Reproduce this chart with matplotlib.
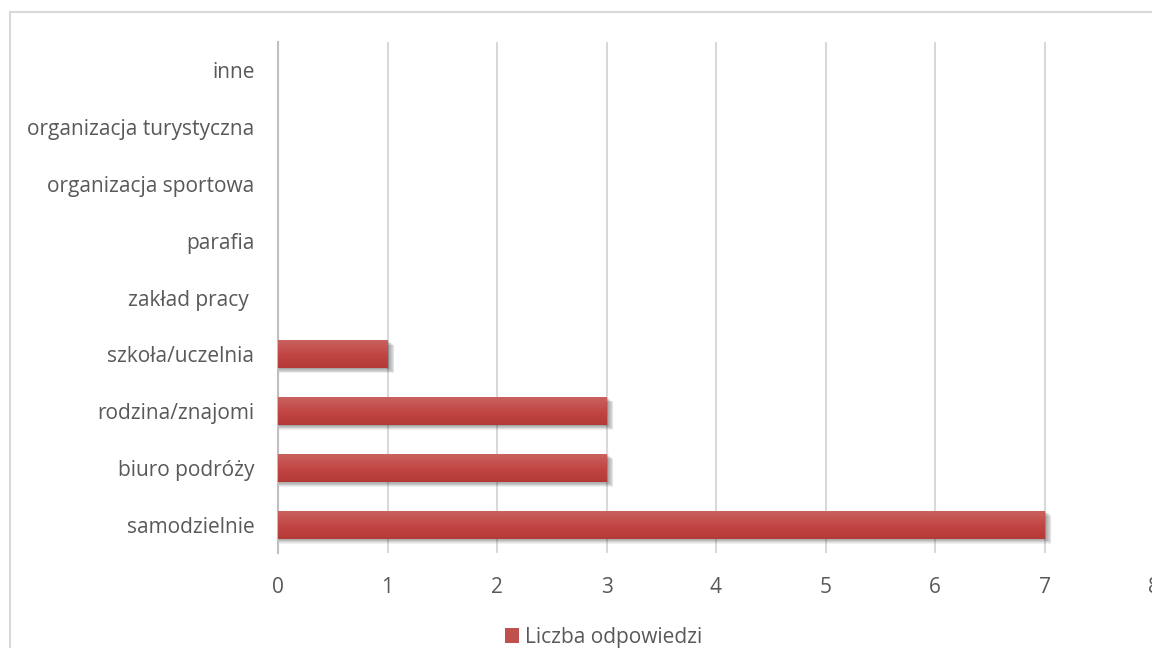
import matplotlib
matplotlib.use("Agg")
import matplotlib.pyplot as plt
import numpy as np
from matplotlib.patches import Rectangle
from matplotlib.lines import Line2D

categories = ["samodzielnie", "biuro podróży", "rodzina/znajomi", "szkoła/uczelnia",
              "zakład pracy ", "parafia", "organizacja sportowa",
              "organizacja turystyczna", "inne"]
counts = [7, 3, 3, 1, 0, 0, 0, 0, 0]
x_ticks = [0, 1, 2, 3, 4, 5, 6, 7, 8]
series_name = "Liczba odpowiedzi"

plt.rcParams['font.family'] = ['Open Sans', 'DejaVu Sans']
text_color = "#595959"

fig = plt.figure(figsize=(11.52, 6.48), dpi=100)
ax = fig.add_axes([278 / 1152, 1 - 553 / 648, 876 / 1152, 511 / 648])

# outer chart frame (top and left edges visible)
fig.add_artist(Line2D([10 / 1152, 1.0], [1 - 12 / 648, 1 - 12 / 648],
                      transform=fig.transFigure, color="#d9d9d9", lw=1.5))
fig.add_artist(Line2D([10 / 1152, 10 / 1152], [0, 1 - 12 / 648],
                      transform=fig.transFigure, color="#d9d9d9", lw=1.5))

y = np.arange(len(categories))
h = 0.49

# soft shadow under each bar
for yi, v in zip(y, counts):
    if v <= 0:
        continue
    for k in range(7):
        off = 0.01 + k * 0.013
        ax.add_patch(Rectangle((0.0, yi - h / 2 - off), v + 0.015 + k * 0.008, h,
                               facecolor="black", alpha=0.06, lw=0, zorder=2))

# bars with a vertical red gradient
grad = np.linspace(0, 1, 64).reshape(-1, 1)
cmap = matplotlib.colors.LinearSegmentedColormap.from_list(
    "red_grad", ["#b43a37", "#c24744", "#c9625f"])
bars = ax.barh(y, counts, height=h, color="#c0504d", lw=0, zorder=3)
for bar, v in zip(bars, counts):
    if v <= 0:
        continue
    x0, y0 = bar.get_x(), bar.get_y()
    im = ax.imshow(grad, cmap=cmap, aspect="auto", origin="lower",
                   extent=(x0, x0 + bar.get_width(), y0, y0 + bar.get_height()),
                   zorder=4, interpolation="bilinear")
    im.set_clip_path(bar)
ax.set_xlim(0, 8)
ax.set_ylim(-0.5, len(categories) - 0.5)

ax.set_xticks(x_ticks)
ax.set_xticklabels([str(t) for t in x_ticks])
ax.set_yticks(y)
ax.set_yticklabels(categories)
ax.grid(axis="x", color="#d9d9d9", lw=1.5, zorder=0)
ax.set_axisbelow(True)
for s in ["top", "right", "bottom"]:
    ax.spines[s].set_visible(False)
ax.spines["left"].set_color("#bfbfbf")
ax.spines["left"].set_linewidth(1.5)
ax.tick_params(axis="both", length=0, colors=text_color, labelsize=15)
ax.tick_params(axis="y", pad=17)
ax.tick_params(axis="x", pad=17)

handle = Rectangle((0, 0), 1, 1, facecolor="#c0504d", lw=0)
fig.legend([handle], [series_name], loc="center left",
           bbox_to_anchor=(486 / 1152, 1 - 637 / 648), frameon=False,
           handlelength=0.7, handleheight=0.7, handletextpad=0.25,
           prop={"size": 15}, labelcolor=text_color)

fig.savefig("out.png", dpi=100)
